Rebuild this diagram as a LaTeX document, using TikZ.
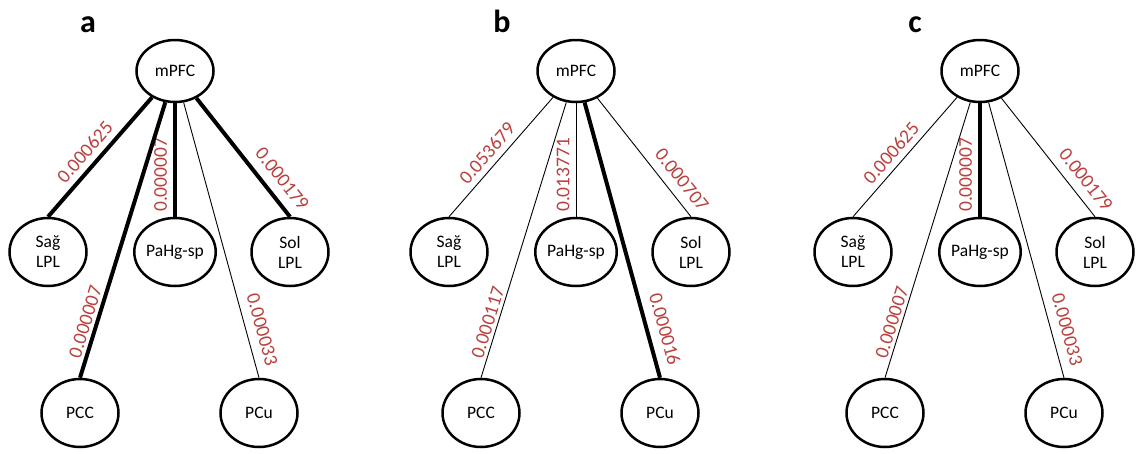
\documentclass[tikz,border=0pt]{standalone}
\usepackage{fontspec}
\setmainfont{Carlito}
\usetikzlibrary{shapes.geometric}
\definecolor{pred}{RGB}{185,65,62}
\tikzset{
  region/.style={ellipse, draw, line width=2.5pt, inner sep=0pt,
    minimum width=77pt, minimum height=68pt, align=center,
    font=\fontsize{17.5}{20}\selectfont},
  hub/.style={region, minimum height=62pt},
  pval/.style={sloped, inner sep=0pt, text=pred,
    font=\fontsize{19.5}{21}\selectfont},
  strong/.style={line width=4pt},
  weak/.style={line width=0.9pt},
  panel/.style={anchor=base, font=\fontsize{32}{32}\selectfont\bfseries}
}
\begin{document}
\begin{tikzpicture}[x=1pt,y=-1pt]
  \useasboundingbox (0,0) rectangle (1136,453);
  % one panel per row: letter, hub x, edge widths, p values
  \foreach \p/\lx/\cx/\wsag/\wpahg/\wsol/\wpcc/\wpcu/\lsag/\lpahg/\lsol/\lpcc/\lpcu in {
    a/88/175/strong/strong/strong/strong/weak/0.000625/0.000007/0.000179/0.000007/0.000033,
    b/502/576/weak/weak/weak/weak/strong/0.053679/0.013771/0.000707/0.000117/0.000016,
    c/915/980/weak/strong/weak/weak/weak/0.000625/0.000007/0.000179/0.000007/0.000033}{
    \node[panel] (\p-lbl) at (\lx,32) {\p};
    % regions
    \node[hub] (\p-mpfc) at (\cx,71) {mPFC};
    \node[region] (\p-sag) at (\cx-127,252) {Sağ\\LPL};
    \node[region] (\p-pahg) at (\cx,252) {PaHg-sp};
    \node[region] (\p-sol) at (\cx+115,252) {Sol\\LPL};
    \node[region] (\p-pcc) at (\cx-95,413) {PCC};
    \node[region] (\p-pcu) at (\cx+84,413) {PCu};
    % connections
    \draw[\wsag] (\p-mpfc) -- node[pval, above=6pt, pos=.54] {\lsag} (\p-sag.north);
    \draw[\wpahg] (\p-pahg.north) -- node[pval, above=6pt, pos=.37] {\lpahg} (\p-mpfc);
    \draw[\wsol] (\p-mpfc) -- node[pval, above=9pt, pos=.77] {\lsol} (\p-sol.north);
    \draw[\wpcc] (\p-mpfc) -- node[pval, above=3pt, pos=.81] {\lpcc} (\p-pcc.north);
    \draw[\wpcu] (\p-mpfc) -- node[pval, above=9pt, pos=.84] {\lpcu} (\p-pcu.north);
  }
\end{tikzpicture}
\end{document}
